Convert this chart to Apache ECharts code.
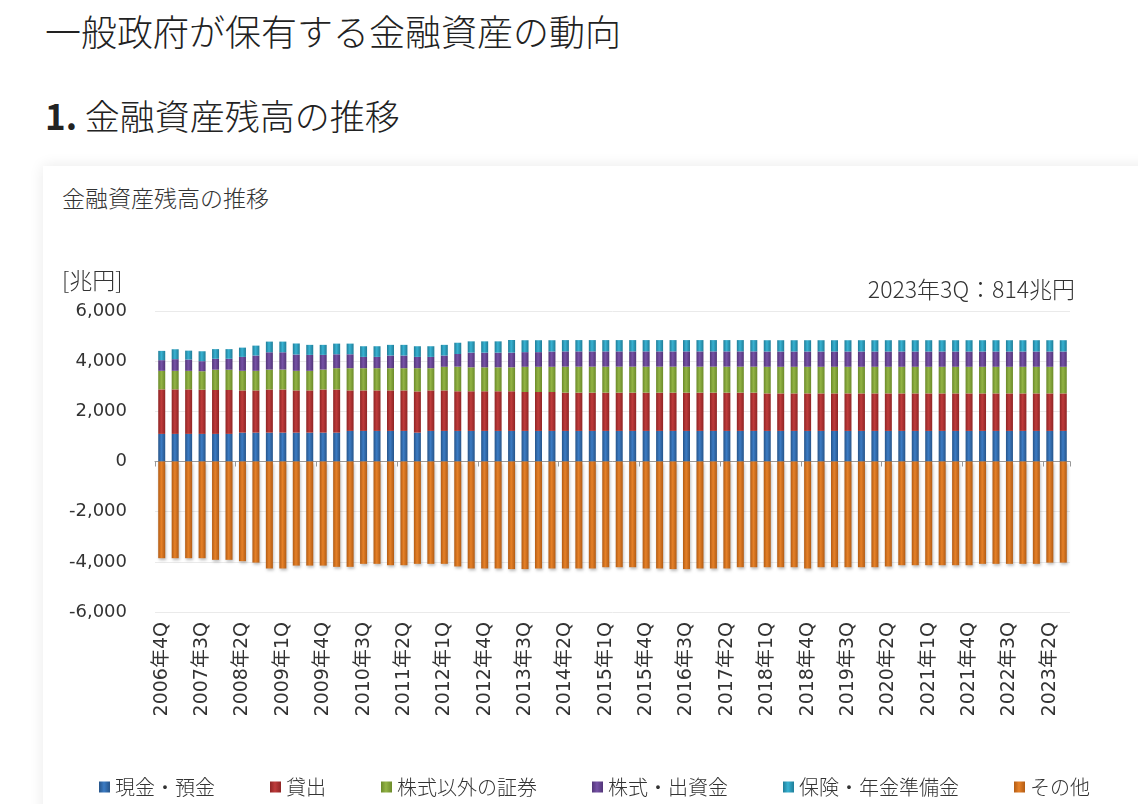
<!DOCTYPE html>
<html>
<head>
<meta charset="utf-8">
<script src="https://cdn.jsdelivr.net/npm/echarts@6/dist/echarts.min.js"></script>
<style>
  html, body { margin: 0; padding: 0; background: #fff; }
  body { width: 1138px; height: 804px; position: relative; overflow: hidden;
         font-family: "Noto Sans CJK JP", "Noto Sans", sans-serif; color: #222; }
  .h1 { position: absolute; left: 45px; top: 10px; font-size: 36px; line-height: 40px; font-weight: 300; }
  .h2 { position: absolute; left: 45px; top: 94px; font-size: 35px; line-height: 42px; font-weight: 300; }
  .h2 b { font-weight: 700; }
  .card { position: absolute; left: 43px; top: 166px; width: 1120px; height: 700px; background: #fff;
          box-shadow: 0 0 14px rgba(0,0,0,0.09); }
  .card-title { position: absolute; left: 62px; top: 183px; font-size: 23px; line-height: 28px; color: #333; font-weight: 300; }
  #chart { position: absolute; left: 0; top: 0; width: 1138px; height: 804px; }
</style>
</head>
<body>
<div class="h1">一般政府が保有する金融資産の動向</div>
<div class="h2"><b>1.</b> 金融資産残高の推移</div>
<div class="card"></div>
<div class="card-title">金融資産残高の推移</div>
<div id="chart"></div>
<script>
var quarters = [
    "2006年4Q",
    "2007年1Q", "2007年2Q", "2007年3Q", "2007年4Q",
    "2008年1Q", "2008年2Q", "2008年3Q", "2008年4Q",
    "2009年1Q", "2009年2Q", "2009年3Q", "2009年4Q",
    "2010年1Q", "2010年2Q", "2010年3Q", "2010年4Q",
    "2011年1Q", "2011年2Q", "2011年3Q", "2011年4Q",
    "2012年1Q", "2012年2Q", "2012年3Q", "2012年4Q",
    "2013年1Q", "2013年2Q", "2013年3Q", "2013年4Q",
    "2014年1Q", "2014年2Q", "2014年3Q", "2014年4Q",
    "2015年1Q", "2015年2Q", "2015年3Q", "2015年4Q",
    "2016年1Q", "2016年2Q", "2016年3Q", "2016年4Q",
    "2017年1Q", "2017年2Q", "2017年3Q", "2017年4Q",
    "2018年1Q", "2018年2Q", "2018年3Q", "2018年4Q",
    "2019年1Q", "2019年2Q", "2019年3Q", "2019年4Q",
    "2020年1Q", "2020年2Q", "2020年3Q", "2020年4Q",
    "2021年1Q", "2021年2Q", "2021年3Q", "2021年4Q",
    "2022年1Q", "2022年2Q", "2022年3Q", "2022年4Q",
    "2023年1Q", "2023年2Q", "2023年3Q"
];

// 現金・預金
var cash = [
    1100, 1100, 1100, 1100, 1100, 1100, 1150, 1150, 1150, 1150,
    1150, 1150, 1150, 1150, 1220, 1220, 1220, 1220, 1220, 1150,
    1220, 1220, 1220, 1220, 1220, 1220, 1220, 1220, 1220, 1220,
    1220, 1220, 1220, 1220, 1220, 1220, 1220, 1220, 1220, 1220,
    1220, 1220, 1220, 1220, 1220, 1220, 1220, 1220, 1220, 1220,
    1220, 1220, 1220, 1220, 1220, 1220, 1220, 1220, 1220, 1220,
    1220, 1220, 1220, 1220, 1220, 1220, 1220, 1220
];
// 貸出
var loans = [
    1775, 1775, 1775, 1760, 1750, 1750, 1685, 1685, 1720, 1720,
    1685, 1685, 1720, 1720, 1615, 1615, 1615, 1615, 1615, 1645,
    1615, 1615, 1580, 1580, 1580, 1580, 1580, 1550, 1550, 1550,
    1525, 1525, 1525, 1525, 1525, 1525, 1525, 1525, 1525, 1525,
    1525, 1525, 1525, 1525, 1525, 1495, 1495, 1495, 1495, 1495,
    1495, 1495, 1495, 1495, 1495, 1495, 1495, 1495, 1495, 1495,
    1495, 1495, 1495, 1495, 1495, 1495, 1495, 1495
];
// 株式以外の証券
var bonds = [
    740, 740, 740, 740, 810, 810, 780, 780, 795, 795,
    780, 780, 795, 850, 885, 885, 885, 885, 885, 925,
    885, 940, 980, 955, 955, 955, 955, 1005, 1005, 1005,
    1035, 1035, 1035, 1035, 1035, 1035, 1035, 1035, 1035, 1035,
    1035, 1035, 1035, 1035, 1035, 1060, 1060, 1060, 1060, 1060,
    1060, 1060, 1060, 1060, 1060, 1060, 1060, 1060, 1060, 1060,
    1060, 1060, 1060, 1060, 1060, 1060, 1060, 1060
];
// 株式・出資金
var equity = [
    425, 465, 450, 400, 435, 435, 555, 610, 690, 690,
    650, 635, 585, 555, 555, 450, 450, 505, 505, 450,
    450, 450, 505, 585, 585, 585, 585, 585, 585, 610,
    610, 610, 610, 610, 610, 610, 610, 610, 610, 610,
    610, 610, 610, 610, 610, 610, 610, 610, 610, 610,
    610, 610, 610, 610, 610, 610, 610, 610, 610, 610,
    610, 610, 610, 610, 610, 610, 610, 610
];
// 保険・年金準備金
var insurance = [
    370, 395, 355, 395, 385, 385, 370, 395, 425, 425,
    440, 400, 400, 425, 425, 425, 425, 425, 425, 425,
    425, 425, 450, 450, 450, 450, 505, 475, 475, 450,
    450, 450, 450, 450, 450, 450, 450, 450, 450, 450,
    450, 450, 450, 450, 450, 450, 450, 450, 450, 450,
    450, 450, 450, 450, 450, 450, 450, 450, 450, 450,
    450, 450, 450, 450, 450, 450, 450, 450
];
// その他
var others = [
    -3855, -3855, -3855, -3855, -3920, -3920, -3975, -4030, -4265, -4265,
    -4150, -4150, -4150, -4200, -4200, -4080, -4080, -4135, -4135, -4080,
    -4080, -4080, -4185, -4265, -4265, -4265, -4290, -4290, -4265, -4265,
    -4265, -4265, -4265, -4215, -4215, -4215, -4265, -4265, -4290, -4290,
    -4265, -4265, -4265, -4215, -4215, -4215, -4215, -4215, -4265, -4215,
    -4215, -4215, -4215, -4215, -4185, -4135, -4135, -4135, -4135, -4135,
    -4135, -4080, -4080, -4080, -4080, -4080, -4030, -4030
];

var yTicks = [-6000, -4000, -2000, 0, 2000, 4000, 6000];
var seriesNames = ["現金・預金", "貸出", "株式以外の証券", "株式・出資金", "保険・年金準備金", "その他"];
var latestNote = "2023年3Q：814兆円";

var numFont = '"DejaVu Sans", "Noto Sans CJK JP", sans-serif';
var jpFont = '"Noto Sans CJK JP", "DejaVu Sans", sans-serif';

// glossy excel-like bar fill
var barFill = function (edge, mid) {
    return new echarts.graphic.LinearGradient(0, 0, 1, 0, [
        { offset: 0, color: edge },
        { offset: 0.45, color: mid },
        { offset: 1, color: edge }
    ]);
}

var palette = [
    ["#265489", "#3c7cc4"],
    ["#8e2424", "#bf3b3b"],
    ["#6b8a2a", "#93b445"],
    ["#523578", "#7652a6"],
    ["#1f7d98", "#38b2d2"],
    ["#b35c14", "#e68128"]
];

var seriesData = [cash, loans, bonds, equity, insurance, others];
var series = [];
for (var i = 0; i < seriesData.length; i++) {
    var s = {
        name: seriesNames[i],
        type: 'bar',
        stack: 'total',
        barWidth: 7,
        data: seriesData[i],
        itemStyle: { color: barFill(palette[i][0], palette[i][1]) }
    };
    if (i == 5) {
        s.itemStyle.shadowColor = 'rgba(0,0,0,0.25)';
        s.itemStyle.shadowBlur = 3;
        s.itemStyle.shadowOffsetX = 1;
        s.itemStyle.shadowOffsetY = 2;
    }
    series.push(s);
}

var myChart = echarts.init(document.getElementById('chart'));
var option = {
    animation: false,
    backgroundColor: 'transparent',
    grid: { left: 155, right: 68, top: 311, bottom: 192, containLabel: false },
    graphic: [
        {
            type: 'text', left: 62, top: 269,
            style: { text: '[兆円]', font: '300 23px ' + jpFont, fill: '#333' }
        },
        {
            type: 'text', right: 63, top: 278,
            style: { text: latestNote, font: '300 23px ' + jpFont, fill: '#333' }
        }
    ],
    legend: {
        left: 94, top: 772,
        itemWidth: 11, itemHeight: 11, itemGap: 55,
        icon: 'rect',
        textStyle: { fontSize: 20, fontFamily: jpFont, fontWeight: 300, color: '#333' },
        data: seriesNames
    },
    xAxis: [
        {
            type: 'category',
            data: quarters,
            axisLine: { onZero: true, lineStyle: { color: '#999', width: 1 } },
            axisTick: { show: true, length: 5, lineStyle: { color: '#999' } },
            axisLabel: { show: false },
            splitLine: { show: false }
        },
        {
            type: 'category',
            data: quarters,
            position: 'bottom',
            axisLine: { show: false, onZero: false },
            axisTick: { show: false },
            axisLabel: {
                interval: 2, rotate: 90, margin: 10,
                fontSize: 19, fontFamily: numFont, color: '#333'
            },
            splitLine: { show: false }
        }
    ],
    yAxis: {
        type: 'value',
        min: yTicks[0], max: yTicks[yTicks.length - 1], interval: 2000,
        axisLine: { show: false },
        axisTick: { show: false },
        axisLabel: {
            margin: 28, fontSize: 18, fontFamily: numFont, color: '#333',
            formatter: function (v) { return v.toLocaleString('en-US'); }
        },
        splitLine: { lineStyle: { color: '#eaeaea' } }
    },
    series: series
};
myChart.setOption(option);
</script>
</body>
</html>
